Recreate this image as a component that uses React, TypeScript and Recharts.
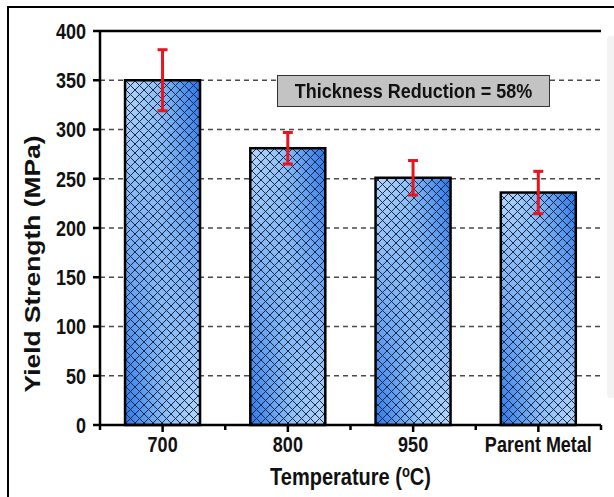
import React from 'react';
import { BarChart, Bar, XAxis, YAxis, CartesianGrid, ErrorBar, ReferenceLine } from 'recharts';

const categories = ['700', '800', '950', 'Parent Metal'];
const yieldStrength = [350, 281, 251, 236];
const yieldError = [31, 16, 17.5, 21.5];
const yTicks = [0, 50, 100, 150, 200, 250, 300, 350, 400];
const yMinorTicks = [25, 75, 125, 175, 225, 275, 325, 375];
const annotationText = 'Thickness Reduction = 58%';
const xTitle = 'Temperature (';
const yTitle = 'Yield Strength (MPa)';

const data = categories.map((c, i) => ({ name: c, ys: yieldStrength[i], err: yieldError[i] }));

const FONT = '"Liberation Sans", Arial, Helvetica, sans-serif';
const STRETCH = 1.2;

const BarShape = (props: any) => {
  const { x, y, width, height } = props;
  if (width == null || height == null) return null;
  return (
    <g>
      <rect x={x} y={y} width={width} height={height} fill="url(#gradLR)" />
      <rect x={x} y={y} width={width} height={height} fill="url(#gradRL)" mask="url(#vmask)" />
      <rect x={x} y={y} width={width} height={height} fill="url(#hatch)" />
      <rect x={x} y={y} width={width} height={height} fill="none" stroke="#000" strokeWidth={2.5} />
    </g>
  );
};

const XTick = (props: any) => {
  const { x, y, payload, index } = props;
  const half = payload && typeof payload.offset === 'number' && payload.offset > 0 ? payload.offset : 62.6;
  return (
    <g>
      <line x1={x} x2={x} y1={y} y2={y + 7} stroke="#000" strokeWidth={2.5} />
      <line x1={x + half} x2={x + half} y1={y} y2={y + 5} stroke="#000" strokeWidth={2.5} />
      {index === 0 && <line x1={x - half} x2={x - half} y1={y} y2={y + 5} stroke="#000" strokeWidth={2.5} />}
      <g transform={`translate(${x} ${y + 27}) scale(1 ${STRETCH})`}>
        <text x={0} y={0} textAnchor="middle" fontFamily={FONT} fontWeight="bold" fontSize={18} fill="#111">
          {payload.value}
        </text>
      </g>
    </g>
  );
};

const YTick = (props: any) => {
  const { x, y, payload } = props;
  return (
    <g>
      <line x1={x - 7} x2={x} y1={y} y2={y} stroke="#000" strokeWidth={2.5} />
      <g transform={`translate(${x - 14} ${y}) scale(1 ${STRETCH})`}>
        <text x={0} y={0} dy="0.36em" textAnchor="end" fontFamily={FONT} fontWeight="bold" fontSize={18} fill="#111">
          {payload.value}
        </text>
      </g>
    </g>
  );
};

const YMinorTick = (props: any) => {
  const { x, y } = props;
  return <line x1={x - 4} x2={x} y1={y} y2={y} stroke="#000" strokeWidth={2} />;
};

const YTitle = (props: any) => {
  const vb = props.viewBox || { x: 0, y: 31, width: 100, height: 394 };
  const cx = vb.x + 32;
  const cy = vb.y + vb.height / 2 + 36;
  return (
    <g transform={`translate(${cx} ${cy}) rotate(-90) scale(${STRETCH} 1)`}>
      <text x={0} y={0} textAnchor="middle" dy="0.36em" fontFamily={FONT} fontWeight="bold" fontSize={22} fill="#111">
        {yTitle}
      </text>
    </g>
  );
};

const XTitle = (props: any) => {
  const vb = props.viewBox || { x: 100, y: 425, width: 501, height: 72 };
  const cx = vb.x + vb.width / 2;
  const by = vb.y + 60;
  return (
    <g transform={`translate(${cx} ${by}) scale(1 ${STRETCH})`}>
      <text x={0} y={0} textAnchor="middle" fontFamily={FONT} fontWeight="bold" fontSize={20} fill="#111">
        {xTitle}
        <tspan fontSize={13} dy={-7}>o</tspan>
        <tspan dy={7}>C)</tspan>
      </text>
    </g>
  );
};

export default function App() {
  return (
    <div style={{ position: 'absolute', left: 0, top: 0, width: 614, height: 497, background: '#fff', overflow: 'hidden' }}>
      <div style={{ position: 'absolute', left: 607, top: 36, width: 14, height: 362, background: '#f3f3f3', borderRadius: 4 }} />
      <div style={{ position: 'absolute', left: 7, top: 6, width: 620, height: 500, borderTop: '2.5px solid #000', borderLeft: '2.5px solid #000' }} />
      <div style={{ position: 'absolute', left: 0, top: 0 }}>
        <BarChart width={614} height={497} data={data} margin={{ top: 31, right: 13, bottom: 0, left: 0 }} barCategoryGap="20%">
          <defs>
            <linearGradient id="gradLR" x1="0" y1="0" x2="1" y2="0">
              <stop offset="0" stopColor="#b9d9fb" />
              <stop offset="0.45" stopColor="#8ebff6" />
              <stop offset="1" stopColor="#2a76ea" />
            </linearGradient>
            <linearGradient id="gradRL" x1="1" y1="0" x2="0" y2="0">
              <stop offset="0" stopColor="#b9d9fb" />
              <stop offset="0.45" stopColor="#8ebff6" />
              <stop offset="1" stopColor="#2a76ea" />
            </linearGradient>
            <linearGradient id="vgrad" x1="0" y1="0" x2="0" y2="1">
              <stop offset="0" stopColor="#000" />
              <stop offset="1" stopColor="#fff" />
            </linearGradient>
            <mask id="vmask" maskUnits="objectBoundingBox" maskContentUnits="objectBoundingBox" x="0" y="0" width="1" height="1">
              <rect x="0" y="0" width="1" height="1" fill="url(#vgrad)" />
            </mask>
            <pattern id="hatch" patternUnits="userSpaceOnUse" width="9" height="9">
              <path d="M-1,-1 L10,10 M10,-1 L-1,10" stroke="#1a2a46" strokeWidth="1" fill="none" />
            </pattern>
          </defs>
          <CartesianGrid yAxisId="main" vertical={false} stroke="#4a4a4a" strokeDasharray="5 4" strokeWidth={1.5} />
          <XAxis
            dataKey="name"
            height={72}
            interval={0}
            axisLine={{ stroke: '#000', strokeWidth: 2.5 }}
            tickLine={false}
            tickSize={0}
            tickMargin={0}
            tick={<XTick />}
            label={<XTitle />}
          />
          <YAxis
            yAxisId="main"
            type="number"
            domain={[0, 400]}
            ticks={yTicks}
            interval={0}
            width={100}
            axisLine={{ stroke: '#000', strokeWidth: 2.5 }}
            tickLine={false}
            tickSize={0}
            tickMargin={0}
            tick={<YTick />}
            label={<YTitle />}
          />
          <YAxis
            yAxisId="minor"
            type="number"
            mirror
            domain={[0, 400]}
            ticks={yMinorTicks}
            interval={0}
            width={0}
            axisLine={false}
            tickLine={false}
            tickSize={0}
            tickMargin={0}
            tick={<YMinorTick />}
          />
          <YAxis
            yAxisId="right"
            orientation="right"
            type="number"
            domain={[0, 400]}
            width={0}
            tick={false}
            tickLine={false}
            axisLine={{ stroke: '#000', strokeWidth: 2.5 }}
          />
          <ReferenceLine yAxisId="main" y={400} stroke="#000" strokeWidth={2.5} />
          <Bar dataKey="ys" yAxisId="main" shape={<BarShape />} isAnimationActive={false}>
            <ErrorBar dataKey="err" width={5} strokeWidth={3} stroke="#e8141e" direction="y" />
          </Bar>
        </BarChart>
      </div>
      <div
        style={{
          position: 'absolute',
          left: 277,
          top: 75,
          width: 273,
          height: 32,
          boxSizing: 'border-box',
          background: '#c3c3c3',
          border: '1.5px solid #333',
          fontFamily: FONT,
          fontWeight: 'bold',
          fontSize: 18,
          color: '#111',
          display: 'flex',
          alignItems: 'center',
          justifyContent: 'center',
        }}
      >
        <span style={{ display: 'inline-block', transform: 'scaleY(1.15)' }}>{annotationText}</span>
      </div>
    </div>
  );
}
